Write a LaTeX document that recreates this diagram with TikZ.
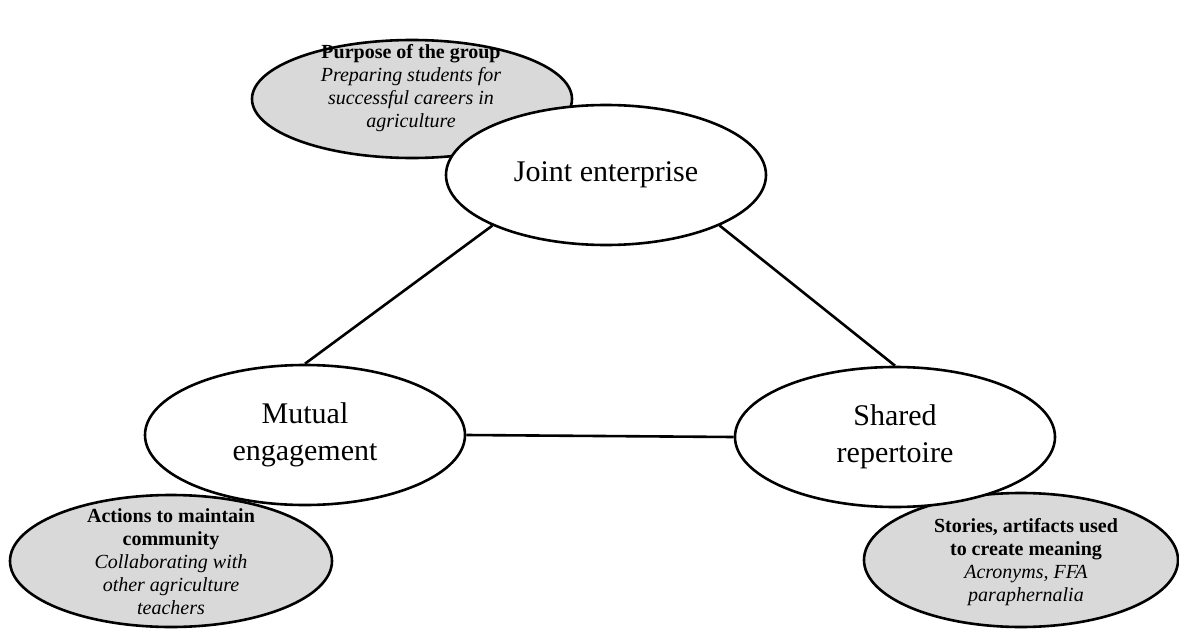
\documentclass[tikz,border=0pt]{standalone}
\usepackage{fontspec}
\setmainfont{Liberation Serif}
\usetikzlibrary{shapes.geometric}
\tikzset{
  mainell/.style={ellipse, draw=black, line width=2.6pt, fill=white, inner sep=0pt,
    minimum width=320pt, minimum height=140pt, align=center,
    font=\fontsize{30}{37}\selectfont},
  grayell/.style={ellipse, draw=black, line width=2.6pt, fill=gray!30, inner sep=0pt},
  graytext/.style={align=center, inner sep=0pt, font=\fontsize{20}{23}\selectfont},
  link/.style={draw=black, line width=2.6pt}
}
\begin{document}
\begin{tikzpicture}[x=1pt, y=-1pt]
\useasboundingbox (0,0) rectangle (1179,629);
% gray ellipses
\node[grayell, minimum width=320pt, minimum height=118pt] (purpose) at (412,99) {};
\node[graytext] (purposetxt) at (411,88) {\textbf{Purpose of the group}\\ \textit{Preparing students for}\\ \textit{successful careers in}\\ \textit{agriculture}};
\node[grayell, minimum width=322pt, minimum height=132pt] (actions) at (171,561) {};
\node[graytext] (actionstxt) at (171,562) {\textbf{Actions to maintain}\\ \textbf{community}\\ \textit{Collaborating with}\\ \textit{other agriculture}\\ \textit{teachers}};
\node[grayell, minimum width=314pt, minimum height=134pt] (stories) at (1021,560) {};
\node[graytext] (storiestxt) at (1026,562) {\textbf{Stories, artifacts used}\\ \textbf{to create meaning}\\ \textit{Acronyms, FFA}\\ \textit{paraphernalia}};
% main ellipses
\node[mainell] (joint) at (606,175) {Joint enterprise};
\node[mainell] (mutual) at (305,435) {Mutual\\ engagement};
\node[mainell] (shared) at (895,437) {Shared\\ repertoire};
% connectors
\draw[link] (joint.204) -- (mutual.north);
\draw[link] (joint.-24) -- (shared.north);
\draw[link] (mutual.east) -- (shared.west);
\end{tikzpicture}
\end{document}
